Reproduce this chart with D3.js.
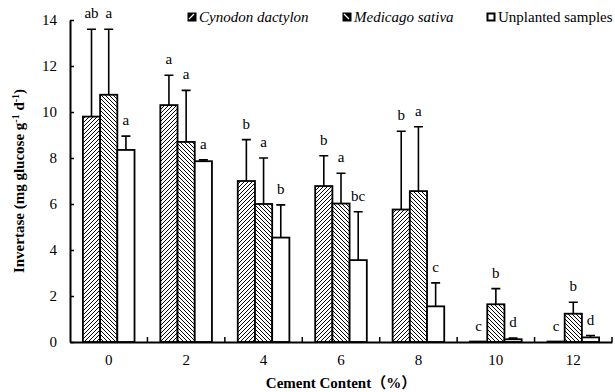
<!DOCTYPE html>
<html>
<head>
<meta charset="utf-8">
<script src="https://cdn.jsdelivr.net/npm/d3@7"></script>
<style>
  body { margin: 0; background: #fff; }
</style>
</head>
<body>
<script>
// Cement content groups
var categories = ["0", "2", "4", "6", "8", "10", "12"];

// series values (mean) and upper error (sd)
var cynodon = [9.8, 10.3, 7.0, 6.78, 5.76, 0.02, 0.02];
var cynodonErr = [3.8, 1.3, 1.8, 1.32, 3.4, 0, 0];
var medicago = [10.75, 8.7, 6.0, 6.02, 6.56, 1.64, 1.23];
var medicagoErr = [2.85, 2.24, 2.0, 1.32, 2.8, 0.68, 0.5];
var unplanted = [8.35, 7.86, 4.54, 3.56, 1.55, 0.12, 0.2];
var unplantedErr = [0.6, 0.06, 1.42, 2.1, 1.02, 0.05, 0.08];

// significance letters
var cynodonLetters = ["ab", "a", "b", "b", "b", "c", "c"];
var medicagoLetters = ["a", "a", "a", "a", "a", "b", "b"];
var unplantedLetters = ["a", "a", "b", "bc", "c", "d", "d"];

var seriesNames = ["Cynodon dactylon", "Medicago sativa", "Unplanted samples"];
var yTicks = [0, 2, 4, 6, 8, 10, 12, 14];

var FONT = "'Liberation Serif', 'Noto Sans CJK SC', serif";

var series = [
  {name: seriesNames[0], vals: cynodon, err: cynodonErr, letters: cynodonLetters, fill: "url(#hatchR)", italic: true, mark: "M1,6 L6,1"},
  {name: seriesNames[1], vals: medicago, err: medicagoErr, letters: medicagoLetters, fill: "url(#hatchL)", italic: true, mark: "M1,1 L6,6"},
  {name: seriesNames[2], vals: unplanted, err: unplantedErr, letters: unplantedLetters, fill: "#fff", italic: false, mark: null}
];

var W = 615, H = 392;
var margin = {top: 20, right: 3, bottom: 50, left: 70},
    width = W - margin.left - margin.right,
    height = H - margin.top - margin.bottom;

var svg = d3.select("body").append("svg")
    .attr("width", W)
    .attr("height", H);

// hatch patterns
var defs = svg.append("defs");
function hatch(id, dir) {
  var p = defs.append("pattern")
      .attr("id", id)
      .attr("patternUnits", "userSpaceOnUse")
      .attr("width", 4).attr("height", 4);
  p.append("rect").attr("width", 4).attr("height", 4).attr("fill", "#fff");
  if (dir > 0) {
    p.append("path").attr("d", "M-1,1 l2,-2 M0,4 l4,-4 M3,5 l2,-2");
  } else {
    p.append("path").attr("d", "M-1,3 l2,2 M0,0 l4,4 M3,-1 l2,2");
  }
  p.select("path").attr("stroke", "#000").attr("stroke-width", 1);
}
hatch("hatchR", 1);
hatch("hatchL", -1);

var g = svg.append("g")
    .attr("transform", "translate(" + margin.left + "," + margin.top + ")");

var x = d3.scaleBand().domain(categories).range([0, width]);
var bw = x.bandwidth();
var xs = d3.scaleBand().domain(seriesNames).range([bw / 6, bw * 5 / 6]);
var y = d3.scaleLinear().domain([0, 14]).range([height, 0]);

// bars
series.forEach(function(s) {
  var grp = g.append("g");
  var bx = function(d, i) { return x(categories[i]) + xs(s.name); };

  grp.selectAll("rect")
    .data(s.vals)
    .enter().append("rect")
      .attr("x", bx)
      .attr("y", function(d) { return y(d); })
      .attr("width", xs.bandwidth())
      .attr("height", function(d) { return height - y(d); })
      .attr("fill", s.fill)
      .attr("stroke", "#000")
      .attr("stroke-width", 1.8);

  // error bars (upper only)
  grp.selectAll("path.err")
    .data(s.vals)
    .enter().append("path")
      .attr("class", "err")
      .attr("fill", "none")
      .attr("stroke", "#000")
      .attr("stroke-width", 1.6)
      .attr("d", function(d, i) {
        if (!s.err[i]) return null;
        var cx = bx(d, i) + xs.bandwidth() / 2;
        var top = y(d + s.err[i]);
        return "M" + cx + "," + y(d) + " V" + top + " M" + (cx - 4.5) + "," + top + " H" + (cx + 4.5);
      });

  grp.selectAll("text")
    .data(s.vals)
    .enter().append("text")
      .attr("x", function(d, i) { return bx(d, i) + xs.bandwidth() / 2; })
      .attr("y", function(d, i) { return y(d + s.err[i]) - 11; })
      .attr("text-anchor", "middle")
      .attr("font-size", 15)
      .text(function(d, i) { return s.letters[i]; });
});

// y axis
var yAxis = g.append("g")
    .call(d3.axisLeft(y).tickValues(yTicks).tickSize(-4).tickPadding(13).tickSizeOuter(0));
yAxis.select(".domain").attr("stroke-width", 2);
yAxis.selectAll(".tick line").attr("stroke-width", 1.5);
yAxis.selectAll("text").attr("font-size", 15);

// x axis
var xAxis = g.append("g")
    .attr("transform", "translate(0," + height + ")")
    .call(d3.axisBottom(x).tickSize(0).tickPadding(12));
xAxis.select(".domain").attr("stroke-width", 2);
xAxis.selectAll("text").attr("font-size", 15);
// ticks between groups
xAxis.selectAll("line.sep")
  .data(categories)
  .enter().append("line")
    .attr("class", "sep")
    .attr("x1", function(d) { return x(d) + bw; })
    .attr("x2", function(d) { return x(d) + bw; })
    .attr("y1", 0).attr("y2", -5)
    .attr("stroke", "#000").attr("stroke-width", 1.5);

// axis titles
svg.append("text")
    .attr("x", margin.left + width / 2)
    .attr("y", 388)
    .attr("text-anchor", "middle")
    .attr("font-size", 15)
    .attr("font-weight", "bold")
    .text("Cement Content\uFF08%\uFF09");

var yl = svg.append("text")
    .attr("transform", "translate(24," + (margin.top + height / 2) + ") rotate(-90)")
    .attr("text-anchor", "middle")
    .attr("font-size", 15)
    .attr("font-weight", "bold");
yl.append("tspan").text("Invertase (mg glucose g");
yl.append("tspan").attr("font-size", 10).attr("dy", -5).text("-1");
yl.append("tspan").attr("dy", 5).text(" d");
yl.append("tspan").attr("font-size", 10).attr("dy", -5).text("-1");
yl.append("tspan").attr("dy", 5).text(")");

// legend
var legendX = [188, 343, 487];
var legend = svg.append("g");
series.forEach(function(s, i) {
  var m = legend.append("g").attr("transform", "translate(" + legendX[i] + ",13)");
  m.append("rect")
    .attr("x", 0.5).attr("y", 0.5)
    .attr("width", 7).attr("height", 7)
    .attr("fill", s.mark ? "#000" : "#fff")
    .attr("stroke", "#000").attr("stroke-width", 2);
  if (s.mark) {
    m.append("path").attr("d", s.mark)
      .attr("stroke", "#fff").attr("stroke-width", 1.3);
  }
  legend.append("text")
    .attr("x", legendX[i] + 11).attr("y", 21.5)
    .attr("font-size", 15)
    .attr("font-style", s.italic ? "italic" : "normal")
    .text(s.name);
});

svg.selectAll("text").style("font-family", FONT);
</script>
</body>
</html>
